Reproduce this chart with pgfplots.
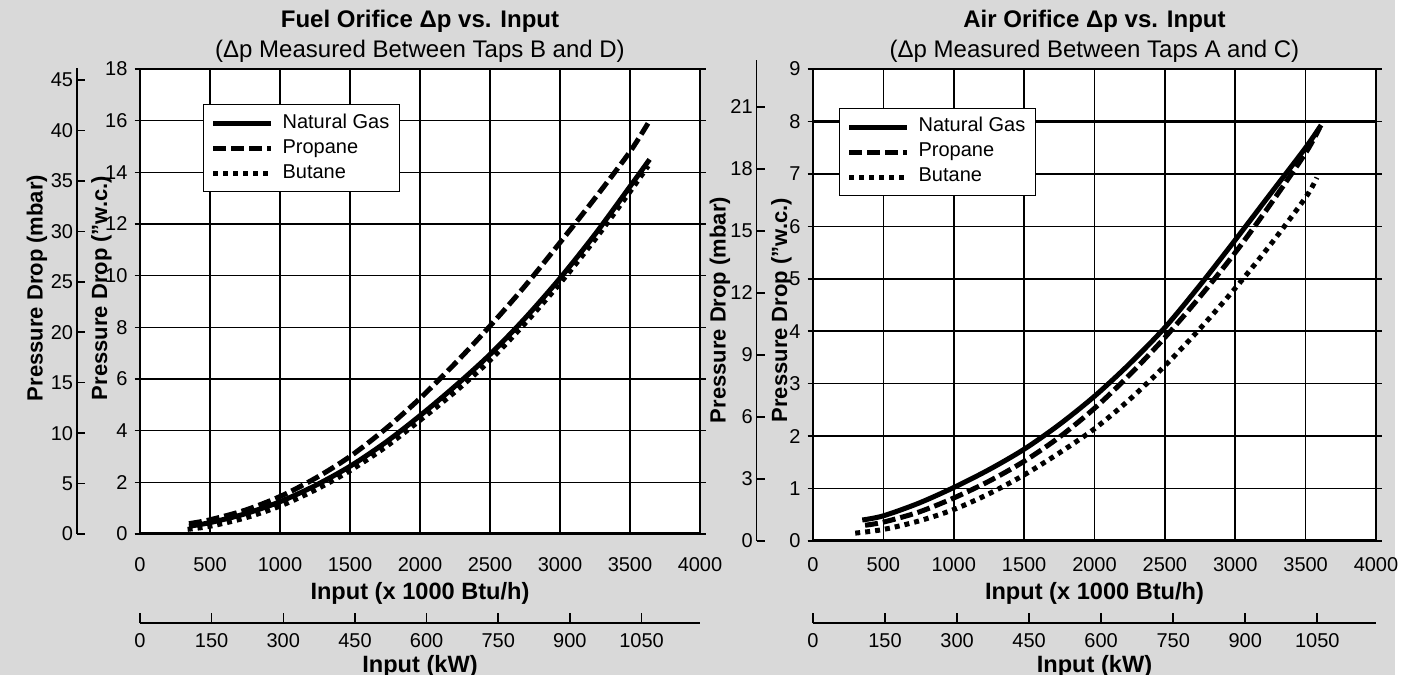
\documentclass[border=0pt]{standalone}
\usepackage{fontspec}
\setmainfont{Liberation Sans}
\usepackage{pgfplots}
\pgfplotsset{compat=1.18}
\definecolor{panelgrey}{RGB}{217,217,217}

\pgfplotsset{
  orifice/.style={
    scale only axis,
    xmin=0, xmax=4000, ymin=0,
    xtick={0,500,...,4000},
    grid=major,
    grid style={black, line width=0.8pt},
    axis line style={black, line width=1pt},
    axis background/.style={fill=white},
    tick align=outside,
    major tick length=2.75pt,
    tick style={black, line width=0.8pt},
    xtick style={draw=none},
    extra y tick labels={},
    extra y tick style={grid style={black, line width=1.5pt}},
    /pgf/number format/assume math mode=true,
    /pgf/number format/1000 sep={},
    ticklabel style={font=\fontsize{10}{12}\selectfont},
    xlabel={Input (x 1000 Btu/h)},
    ylabel={Pressure Drop ("w.c.)},
    xlabel style={font=\bfseries\fontsize{11.8}{14}\selectfont, anchor=base},
    ylabel style={font=\bfseries\fontsize{11}{13}\selectfont, anchor=center},
    title style={font=\fontsize{12}{15}\selectfont, align=center,
                 at={(0.5,1)}, anchor=south, yshift=-6.25pt},
    legend cell align=left,
    legend style={anchor=north west, draw=black, line width=0.6pt, fill=white,
                  font=\fontsize{10}{12}\selectfont, inner xsep=3.5pt, inner ysep=3pt,
                  row sep=0pt,
                  nodes={inner sep=1.5pt, text height=7.2pt, text depth=2.3pt}},
    legend image code/.code={\draw[#1] (0pt,0pt) -- (29pt,0pt); \path (32pt,0pt);},
  },
  mbar/.style={
    scale only axis, width=1pt,
    xmin=0, xmax=1, ymin=0,
    hide x axis, axis y line*=left,
    axis line style={black, line width=0.8pt},
    tick align=inside, major tick length=4pt,
    tick style={black, line width=0.8pt},
    /pgf/number format/assume math mode=true,
    ticklabel style={font=\fontsize{10}{12}\selectfont},
    yticklabel style={inner xsep=1.75pt},
    ylabel={Pressure Drop (mbar)},
    ylabel style={font=\bfseries\fontsize{11}{13}\selectfont, anchor=center},
  },
  kw/.style={
    scale only axis, height=5pt,
    xmin=0, xmax=1172.3, ymin=0, ymax=1,
    hide y axis, axis x line=bottom,
    axis line style={-, black, line width=0.8pt},
    tick align=inside, major tick length=5pt,
    tick style={black, line width=0.8pt},
    xtick={0,150,...,1050},
    /pgf/number format/assume math mode=true,
    /pgf/number format/1000 sep={},
    ticklabel style={font=\fontsize{10}{12}\selectfont},
    xticklabel style={yshift=-1.7pt},
    xlabel={Input (kW)},
    xlabel style={font=\bfseries\fontsize{11.8}{14}\selectfont,
                  at={(axis description cs:0.5,0)}, anchor=base, yshift=-24.5pt},
  },
  ng/.style={black, line width=2.5pt, smooth},
  pro/.style={black, line width=2.5pt, smooth, dash pattern=on 6.5pt off 2.5pt},
  but/.style={black, line width=2.5pt, smooth, dash pattern=on 2.5pt off 2.5pt},
}

\begin{document}
\begin{tikzpicture}
\useasboundingbox (0,0) rectangle (704.5pt,337.5pt);
\fill[panelgrey] (0,0) rectangle (697.5pt,337.5pt);

%% ---------------- fuel orifice ----------------
\begin{axis}[mbar, at={(38.5pt,70.5pt)}, anchor=south west,
  height=233pt, ymax=46.2, ytick={0,5,...,45},
  ylabel style={at={(axis description cs:0,0.528)}, yshift=20pt}]
\end{axis}

\begin{axis}[orifice, at={(70pt,70.5pt)}, anchor=south west,
  width=280pt, height=232.5pt, ymax=18, ytick={0,2,...,18},
  extra y ticks={0},
  xticklabel style={yshift=-5.7pt},
  xlabel style={at={(axis description cs:0.5,-0.1419)}},
  ylabel style={at={(axis description cs:-0.06875,0.529)}},
  title={\textbf{Fuel Orifice Δp vs. Input}\\(Δp Measured Between Taps B and D)},
  legend style={at={(0.1125,0.9247)}}]
  % natural gas
  \addplot[ng] coordinates {
    (350,0.30) (500,0.44) (750,0.78) (1000,1.25) (1250,1.87) (1500,2.62)
    (1750,3.53) (2000,4.58) (2250,5.72) (2500,6.95) (2750,8.35) (3000,9.90)
    (3250,11.60) (3500,13.45) (3640,14.50)};
  % propane
  \addplot[pro] coordinates {
    (350,0.40) (500,0.55) (750,0.92) (1000,1.45) (1250,2.15) (1500,3.00)
    (1750,4.05) (2000,5.25) (2250,6.60) (2500,8.05) (2750,9.60) (3000,11.28)
    (3250,13.00) (3500,14.80) (3640,16.00)};
  % butane
  \addplot[but] coordinates {
    (340,0.18) (500,0.30) (750,0.62) (1000,1.08) (1250,1.70) (1500,2.45)
    (1750,3.35) (2000,4.40) (2250,5.50) (2500,6.72) (2750,8.15) (3000,9.70)
    (3250,11.40) (3500,13.25) (3630,14.25)};
  \legend{Natural Gas, Propane, Butane}
\end{axis}

\begin{axis}[kw, at={(70pt,26pt)}, anchor=south west, width=280pt]
\end{axis}

%% ---------------- air orifice ----------------
\begin{axis}[mbar, at={(378.3pt,67pt)}, anchor=south west,
  height=240.5pt, ymax=23.27, ytick={0,3,...,21},
  ylabel style={at={(axis description cs:0,0.480)}, yshift=18.3pt}]
\end{axis}

\begin{axis}[orifice, at={(406.5pt,67pt)}, anchor=south west,
  width=281.5pt, height=236pt, ymax=9, ytick={0,1,...,9},
  extra y ticks={0,8},
  xticklabel style={yshift=-2.2pt},
  xlabel style={at={(axis description cs:0.5,-0.125)}},
  ylabel style={at={(axis description cs:-0.0560,0.489)}},
  title={\textbf{Air Orifice Δp vs. Input}\\(Δp Measured Between Taps A and C)},
  legend style={at={(0.0462,0.9174)}}]
  % natural gas
  \addplot[ng] coordinates {
    (350,0.40) (500,0.48) (750,0.72) (1000,1.02) (1250,1.36) (1500,1.75)
    (1750,2.22) (2000,2.76) (2250,3.38) (2500,4.07) (2750,4.88) (3000,5.74)
    (3250,6.62) (3500,7.50) (3610,7.93)};
  % propane
  \addplot[pro] coordinates {
    (370,0.30) (500,0.36) (750,0.55) (1000,0.82) (1250,1.14) (1500,1.52)
    (1750,1.98) (2000,2.53) (2250,3.17) (2500,3.88) (2750,4.66) (3000,5.50)
    (3250,6.42) (3500,7.40) (3600,7.88)};
  % butane
  \addplot[but] coordinates {
    (300,0.15) (500,0.22) (750,0.38) (1000,0.60) (1250,0.90) (1500,1.26)
    (1750,1.68) (2000,2.14) (2250,2.70) (2500,3.34) (2750,4.05) (3000,4.82)
    (3250,5.65) (3500,6.55) (3580,6.93)};
  \legend{Natural Gas, Propane, Butane}
\end{axis}

\begin{axis}[kw, at={(406.5pt,26pt)}, anchor=south west, width=281.5pt]
\end{axis}
\end{tikzpicture}
\end{document}
